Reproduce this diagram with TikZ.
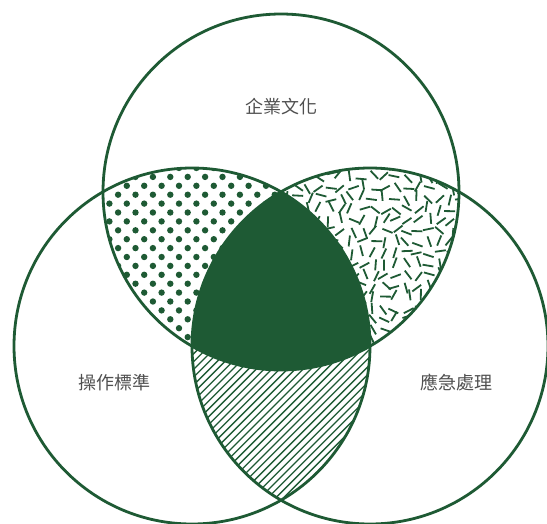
\documentclass[tikz,border=0pt]{standalone}
\usepackage{fontspec}
\newfontfamily\cjk{Noto Sans CJK TC}
\definecolor{vg}{HTML}{1E5A34}
\definecolor{lbl}{HTML}{4F4F4F}
\begin{document}
\begin{tikzpicture}[x=1pt,y=-1pt,
  ring/.style={draw=vg,line width=2.8pt},
  lab/.style={text=lbl,font=\cjk\fontsize{18}{18}\selectfont,inner sep=0pt}]
\useasboundingbox (0,0) rectangle (547,523);
\clip (0,0) rectangle (547,523);
\coordinate (T) at (281,192);
\coordinate (L) at (192,346);
\coordinate (R) at (370,346);
% dots: top & left
\begin{scope}
  \clip (T) circle (178pt);
  \clip (L) circle (178pt);
  \foreach \j in {0,...,22}
    \foreach \i in {0,...,12}
      \fill[vg] ({92+17.4*\i+8.7*mod(\j,2)},{168+8.9*\j}) circle (3.2pt);
\end{scope}
% random dashes: top & right
\begin{scope}
  \clip (T) circle (178pt);
  \clip (R) circle (178pt);
  \pgfmathsetseed{12}
  \foreach \i in {0,...,17}
    \foreach \j in {0,...,16} {
      \pgfmathsetmacro\px{275+11*\i+rand*3}
      \pgfmathsetmacro\py{165+11*\j+rand*3}
      \pgfmathsetmacro\ang{rnd*180}
      \draw[vg,line width=1.8pt,shift={(\px,\py)},rotate=\ang] (-5.5,0) -- (5.5,0);
    }
\end{scope}
% hatching: left & right
\begin{scope}
  \clip (L) circle (178pt);
  \clip (R) circle (178pt);
  \foreach \k in {-40,...,40}
    \draw[vg,line width=1.3pt] ({280+7.8*\k-200},{600}) -- ({280+7.8*\k+200},{200});
\end{scope}
% centre: all three
\begin{scope}
  \clip (T) circle (178pt);
  \clip (L) circle (178pt);
  \fill[vg] (R) circle (178pt);
\end{scope}
% rings
\draw[ring] (T) circle (178pt);
\draw[ring] (L) circle (178pt);
\draw[ring] (R) circle (178pt);
% labels
\node[lab] (tl) at (281,107) {企業文化};
\node[lab] (ll) at (114,383) {操作標準};
\node[lab] (rl) at (456,383) {應急處理};
\end{tikzpicture}
\end{document}
